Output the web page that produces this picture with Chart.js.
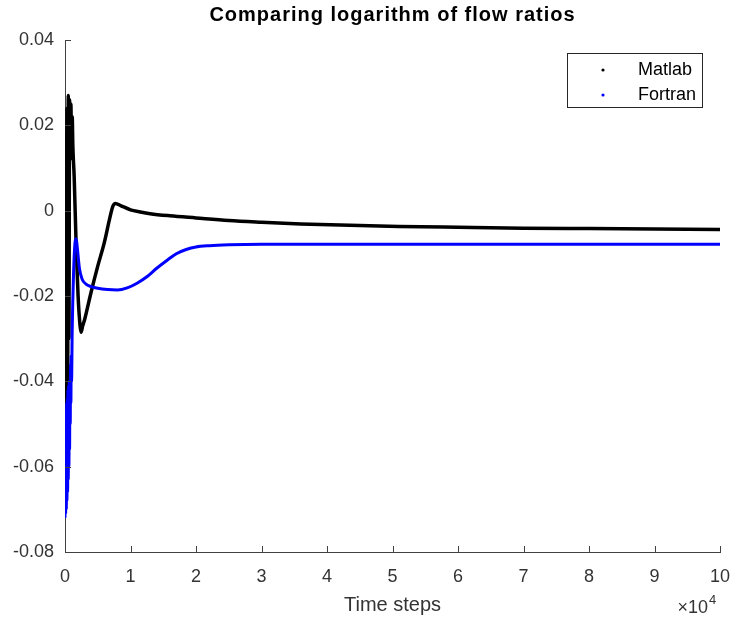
<!DOCTYPE html>
<html>

<head>
    <meta charset="utf-8">
    <title>Comparing logarithm of flow ratios</title>
    <script src="https://cdn.jsdelivr.net/npm/chart.js@4.4.0/dist/chart.umd.min.js"></script>
    <style>
        body { margin: 0; background: #fff; }
    </style>
</head>

<body>
    <canvas id="myChart" width="733" height="621"></canvas>
    <script>
        // data
        const chartTitle = 'Comparing logarithm of flow ratios';
        const xAxisTitle = 'Time steps';
        const seriesNames = ['Matlab', 'Fortran'];
        const xTickLabels = ['0', '1', '2', '3', '4', '5', '6', '7', '8', '9', '10'];
        const yTickLabels = ['-0.08', '-0.06', '-0.04', '-0.02', '0', '0.02', '0.04'];

        const matlabSteps = [0, 100, 200, 300, 400, 500, 600, 700, 800, 900, 1000, 1100, 1200, 1400, 1700, 2000, 2300,
            2450, 2700, 3000, 4000, 5000, 6000, 6800, 7300, 7700, 8500, 10000, 11500, 13000, 16000, 20000, 25000,
            30000, 36000, 45000, 51000, 60000, 70000, 80000, 90000, 100000];
        const matlabValues = [-0.062, 0.018, -0.055, 0.024, -0.045, 0.027, -0.03, 0.026, 0.012, 0.025, 0.014, 0.022,
            0.015, 0.008, -0.008, -0.02, -0.027, -0.0285, -0.027, -0.0255, -0.019, -0.013, -0.0075, -0.002, 0.001,
            0.0017, 0.0012, 0.0002, -0.0003, -0.0007, -0.0012, -0.0017, -0.0023, -0.0027, -0.0031, -0.0035, -0.0037,
            -0.0039, -0.0041, -0.0042, -0.0043, -0.0044];

        const fortranSteps = [0, 50, 100, 150, 200, 250, 300, 350, 400, 450, 500, 550, 600, 650, 700, 750, 800, 850,
            900, 950, 1000, 1100, 1300, 1500, 1700, 1900, 2200, 2600, 3200, 4000, 5000, 6500, 8000, 9500, 11000,
            12500, 14000, 15700, 17000, 18500, 20000, 22000, 25000, 30000, 40000, 50000, 60000, 70000, 80000, 90000,
            100000];
        const fortranValues = [-0.072, -0.05, -0.071, -0.047, -0.07, -0.045, -0.068, -0.044, -0.066, -0.042, -0.063,
            -0.041, -0.06, -0.04, -0.056, -0.04, -0.05, -0.036, -0.045, -0.034, -0.04, -0.028, -0.015, -0.008,
            -0.0066, -0.009, -0.0135, -0.016, -0.0172, -0.0178, -0.0182, -0.0185, -0.0186, -0.0181, -0.017, -0.0155,
            -0.0135, -0.0115, -0.0101, -0.0091, -0.0085, -0.0082, -0.008, -0.0079, -0.0079, -0.0079, -0.0079,
            -0.0079, -0.0079, -0.0079, -0.0079];

        const textColor = '#333333';
        const axisColor = '#404040';

        function toPoints(xs, ys) {
            return xs.map(function (x, i) { return { x: x, y: ys[i] }; });
        }

        // title, legend box, inward ticks and the x10^4 note, MATLAB style
        const matlabDecor = {
            id: 'matlabDecor',
            afterDraw(chart) {
                const ctx = chart.ctx;
                const area = chart.chartArea;
                const xs = chart.scales.x;
                const ys = chart.scales.y;
                ctx.save();

                // inward ticks
                ctx.strokeStyle = axisColor;
                ctx.lineWidth = 1;
                ctx.beginPath();
                xs.ticks.forEach(function (t) {
                    const px = Math.round(xs.getPixelForValue(t.value)) + 0.5;
                    ctx.moveTo(px, area.bottom);
                    ctx.lineTo(px, area.bottom - 6);
                });
                ys.ticks.forEach(function (t) {
                    const py = Math.round(ys.getPixelForValue(t.value)) + 0.5;
                    ctx.moveTo(area.left, py);
                    ctx.lineTo(area.left + 6, py);
                });
                ctx.stroke();

                // title
                ctx.fillStyle = '#000';
                ctx.font = 'bold 20px "Liberation Sans", Arial, sans-serif';
                ctx.letterSpacing = '1px';
                ctx.textAlign = 'center';
                ctx.textBaseline = 'middle';
                ctx.fillText(chartTitle, (area.left + area.right) / 2, 15);
                ctx.letterSpacing = '0px';

                // legend
                const bx = area.right - 18, by = area.top + 13;
                const bw = 135, bh = 54;
                ctx.fillStyle = '#fff';
                ctx.fillRect(bx - bw, by, bw, bh);
                ctx.strokeStyle = '#262626';
                ctx.strokeRect(bx - bw + 0.5, by + 0.5, bw, bh);
                ctx.font = '18px "Liberation Sans", Arial, sans-serif';
                ctx.textAlign = 'left';
                chart.data.datasets.forEach(function (ds, i) {
                    const cy = by + 17 + i * 25;
                    ctx.fillStyle = ds.borderColor;
                    ctx.beginPath();
                    ctx.arc(bx - bw + 36, cy, 1.6, 0, Math.PI * 2);
                    ctx.fill();
                    ctx.fillStyle = '#000';
                    ctx.fillText(ds.label, bx - bw + 71, cy);
                });

                // exponent note
                ctx.fillStyle = textColor;
                ctx.font = '18px "Liberation Sans", Arial, sans-serif';
                ctx.textAlign = 'right';
                ctx.textBaseline = 'alphabetic';
                const supW = 9;
                ctx.fillText('\u00d710', area.right - 3 - supW, 613);
                ctx.font = '13px "Liberation Sans", Arial, sans-serif';
                ctx.textAlign = 'left';
                ctx.fillText('4', area.right - 2 - supW, 604);
                ctx.restore();
            }
        };

        const config = {
            type: 'line',
            data: {
                datasets: [
                    {
                        label: seriesNames[0],
                        data: toPoints(matlabSteps, matlabValues),
                        borderColor: '#000000',
                        backgroundColor: '#000000',
                        borderWidth: 3.5,
                        pointRadius: 0,
                        cubicInterpolationMode: 'monotone',
                        order: 1
                    },
                    {
                        label: seriesNames[1],
                        data: toPoints(fortranSteps, fortranValues),
                        borderColor: '#0000ff',
                        backgroundColor: '#0000ff',
                        borderWidth: 3,
                        pointRadius: 0,
                        cubicInterpolationMode: 'monotone',
                        order: 0
                    }
                ]
            },
            options: {
                responsive: false,
                animation: false,
                layout: { padding: { top: 40, right: 13, left: 0, bottom: 0 } },
                plugins: {
                    legend: { display: false },
                    title: { display: false },
                    tooltip: { enabled: false }
                },
                scales: {
                    x: {
                        type: 'linear',
                        min: 0,
                        max: 100000,
                        afterFit: function (s) {
                            s.height = 69;
                            s.paddingLeft = 0;
                            s.paddingRight = 0;
                        },
                        grid: { display: false, drawTicks: false },
                        border: { display: true, color: axisColor, width: 1 },
                        ticks: {
                            stepSize: 10000,
                            autoSkip: false,
                            maxRotation: 0,
                            padding: 14,
                            color: textColor,
                            font: { family: '"Liberation Sans", Arial, sans-serif', size: 18 },
                            callback: function (v, i) { return xTickLabels[i]; }
                        },
                        title: {
                            display: true,
                            text: xAxisTitle,
                            color: textColor,
                            font: { family: '"Liberation Sans", Arial, sans-serif', size: 20 },
                            padding: { top: 0, bottom: 4 }
                        }
                    },
                    y: {
                        min: -0.08,
                        max: 0.04,
                        afterFit: function (s) {
                            s.width = 65;
                            s.paddingTop = 0;
                            s.paddingBottom = 0;
                        },
                        grid: { display: false, drawTicks: false },
                        border: { display: true, color: axisColor, width: 1 },
                        ticks: {
                            stepSize: 0.02,
                            autoSkip: false,
                            padding: 11,
                            color: textColor,
                            font: { family: '"Liberation Sans", Arial, sans-serif', size: 18 },
                            callback: function (v, i) { return yTickLabels[i]; }
                        }
                    }
                }
            },
            plugins: [matlabDecor]
        };

        const myChart = new Chart(document.getElementById('myChart'), config);
    </script>
</body>

</html>
